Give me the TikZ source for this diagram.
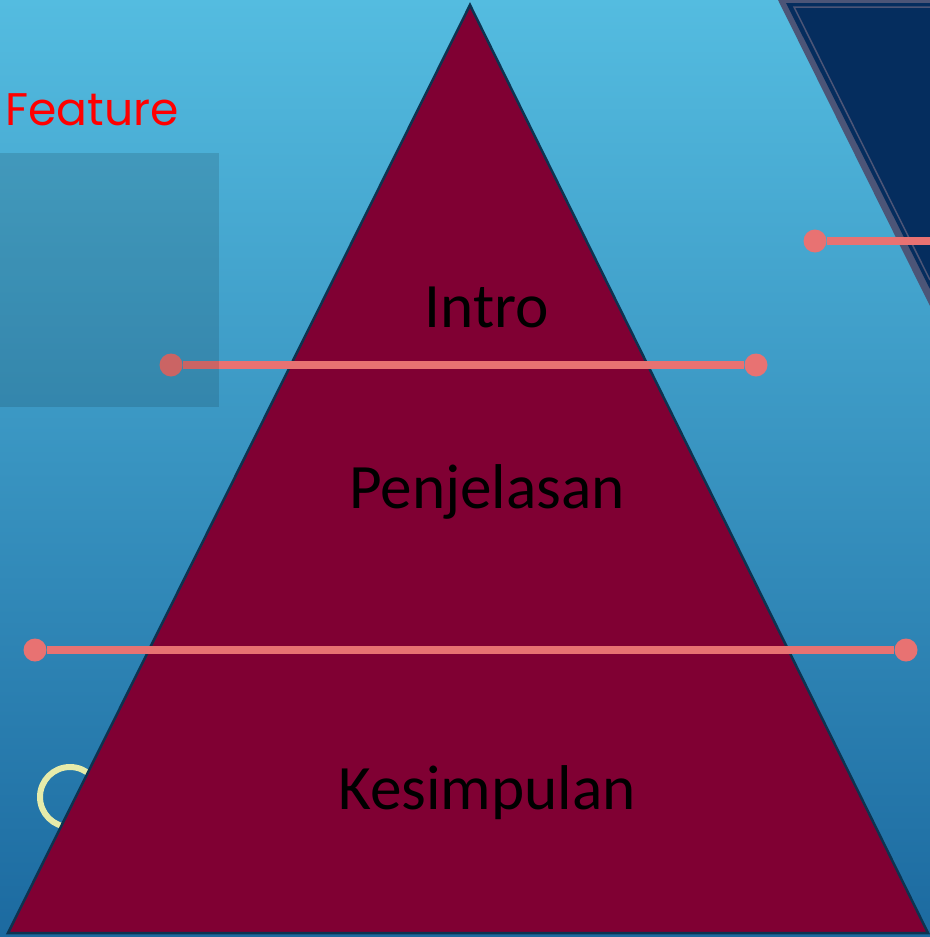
\documentclass[tikz,border=0pt]{standalone}
\usepackage{fontspec}
\setmainfont{Carlito}
\newfontfamily\featurefont{Poppins}
\usetikzlibrary{positioning}

\definecolor{skytop}{HTML}{54BCE0}
\definecolor{skybottom}{HTML}{1C6AA0}
\definecolor{pyramidfill}{HTML}{800033}
\definecolor{pyramidedge}{HTML}{0C3350}
\definecolor{navyfill}{HTML}{052D5E}
\definecolor{navyedge}{HTML}{4C5577}
\definecolor{dividerpink}{HTML}{E87272}
\definecolor{ringyellow}{HTML}{E6EBAA}

\begin{document}
\begin{tikzpicture}[
    x=0.02cm, y=-0.02cm,
    level/.style={font=\fontsize{36}{40}\selectfont, text=black, inner sep=0pt, anchor=base},
    dot/.style={circle, fill=dividerpink, minimum size=0.46cm, inner sep=0pt},
    divider/.style={line width=0.16cm, dividerpink},
    title/.style={font=\featurefont\fontsize{26}{30}\selectfont, text=red, inner sep=0pt, anchor=base west}
]
\useasboundingbox (0,0) rectangle (930,937);

% Background
\shade[top color=skytop, bottom color=skybottom] (0,0) rectangle (930,937);

% Navy corner shape
\fill[navyedge] (778,0) -- (930,0) -- (930,306) -- cycle;
\fill[navyfill] (786,3) -- (930,3) -- (930,289) -- cycle;
\draw[navyedge, line width=0.03cm] (930,7) -- (794,7) -- (930,280);

% Ring behind the pyramid
\draw[ringyellow, line width=0.12cm] (70,797) circle[radius=0.6cm];

% Pyramid
\coordinate (apex) at (470,5);
\coordinate (baseR) at (928,933);
\coordinate (baseL) at (8,933);
\draw[fill=pyramidfill, draw=pyramidedge, line width=0.05cm] (apex) -- (baseR) -- (baseL) -- cycle;

% Levels
\node[level] (intro) at (487,327) {Intro};
\node[level] (explain) at (487,508) {Penjelasan};
\node[level] (summary) at (487,809) {Kesimpulan};

% Dividers
\node[dot] (topL) at (171,365) {};
\node[dot] (topR) at (756,365) {};
\draw[divider] (topL) -- (topR);

\node[dot] (lowL) at (35,650) {};
\node[dot] (lowR) at (906,650) {};
\draw[divider] (lowL) -- (lowR);

\node[dot] (cornerdot) at (815,241) {};
\coordinate (cornerend) at (930,241);
\draw[divider] (cornerdot) -- (cornerend);

% Shaded panel
\fill[black, opacity=0.12] (0,153) rectangle (219,407);

% Title
\node[title] (feature) at (5,125) {Feature};

\end{tikzpicture}
\end{document}
